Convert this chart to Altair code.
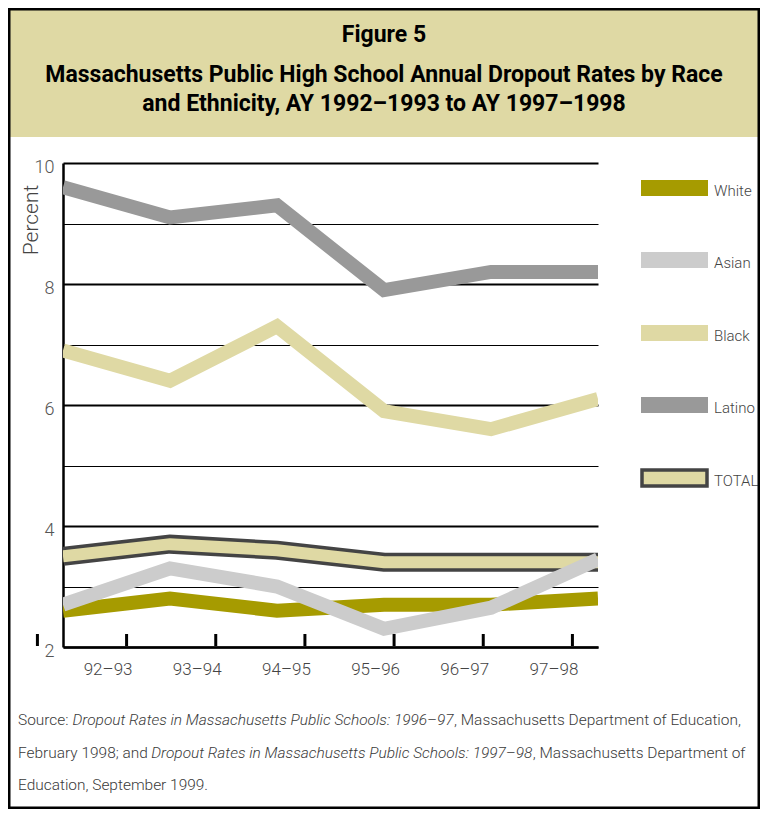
import altair as alt
import pandas as pd

# ---------------- data ----------------
years = ["92–93", "93–94", "94–95", "95–96", "96–97", "97–98"]
white = [2.6, 2.8, 2.6, 2.7, 2.7, 2.8]
asian = [2.7, 3.3, 3.0, 2.3, 2.65, 3.45]
black = [6.9, 6.4, 7.3, 5.9, 5.6, 6.1]
latino = [9.6, 9.1, 9.3, 7.9, 8.2, 8.2]
total = [3.5, 3.7, 3.6, 3.4, 3.4, 3.4]
series_names = ["White", "Asian", "Black", "Latino", "TOTAL"]
y_ticks = [2, 3, 4, 5, 6, 7, 8, 9, 10]

title_lines = [
    "Figure 5",
    "Massachusetts Public High School Annual Dropout Rates by Race",
    "and Ethnicity, AY 1992–1993 to AY 1997–1998",
]
source_lines = [
    [("Source: ", "normal"),
     ("Dropout Rates in Massachusetts Public Schools: 1996–97", "italic"),
     (", Massachusetts Department of Education,", "normal")],
    [("February 1998; and ", "normal"),
     ("Dropout Rates in Massachusetts Public Schools: 1997–98", "italic"),
     (", Massachusetts Department of", "normal")],
    [("Education, September 1999.", "normal")],
]

# ---------------- style ----------------
FONT = "Roboto, Liberation Sans, sans-serif"
TXT = "#3a3a3a"
TAN = "#dfd9a4"
colors = {"White": "#a69b00", "Asian": "#cccccc", "Black": "#dfd9a4",
          "Latino": "#999999", "TOTAL": "#dfd9a4"}

W, H = 535, 484
PAD_L, PAD_T, PAD_R, PAD_B = 55, 155, 162, 162

# approximate Roboto advance widths (units of 1/2048 em) for text layout
_w = {" ": 507, "a": 1087, "b": 1122, "c": 1046, "d": 1126, "e": 1058, "f": 694,
      "g": 1122, "h": 1101, "i": 486, "j": 478, "k": 1014, "l": 486, "m": 1751,
      "n": 1103, "o": 1140, "p": 1122, "q": 1131, "r": 677, "s": 1031, "t": 654,
      "u": 1100, "v": 968, "w": 1502, "x": 991, "y": 947, "z": 991,
      "A": 1336, "B": 1277, "C": 1338, "D": 1347, "E": 1166, "F": 1134, "G": 1397,
      "H": 1464, "I": 559, "J": 1132, "K": 1287, "L": 1104, "M": 1793, "N": 1464,
      "O": 1411, "P": 1292, "R": 1261, "S": 1217, "T": 1224, "U": 1331, "Y": 1231,
      ",": 402, ".": 527, ":": 485, ";": 433, "–": 1365, "-": 565}


def em(s):
    return sum(_w.get(c, 1150 if c.isdigit() else 1050) for c in s) / 2048.0


rows = []
for name, vals in zip(series_names, [white, asian, black, latino, total]):
    for yr, v in zip(years, vals):
        rows.append({"series": name, "year": yr, "value": v})
df = pd.DataFrame(rows)
one = pd.DataFrame({"a": [0]})

xs = alt.Scale(type="point", padding=0, domain=years)
ys = alt.Scale(domain=[2, 10], nice=False, zero=False)

y_axis = alt.Axis(
    values=y_ticks, grid=True, gridColor="black",
    gridWidth={"condition": {"test": "datum.value % 2 === 0", "value": 2}, "value": 1},
    labelExpr="datum.value % 2 === 0 ? datum.label : ''",
    ticks=False, domainColor="black", domainWidth=2.5, title=None,
    labelFont=FONT, labelFontSize=18, labelFontWeight=300, labelColor="#555555",
    labelPadding=9, labelOffset=4,
)


def series_line(name, width, color):
    return alt.Chart(df).transform_filter(alt.datum.series == name).mark_line(
        strokeWidth=width, color=color, strokeCap="butt", strokeJoin="miter", clip=True
    ).encode(x=alt.X("year:N", scale=xs, axis=None, sort=years),
             y=alt.Y("value:Q", scale=ys, axis=y_axis))


layers = []
layers.append(series_line("Latino", 14, colors["Latino"]))
layers.append(series_line("Black", 14, colors["Black"]))
layers.append(series_line("TOTAL", 19, "#444444"))
layers.append(series_line("TOTAL", 12, colors["TOTAL"]))
layers.append(series_line("White", 14, colors["White"]))
layers.append(series_line("Asian", 14, colors["Asian"]))

# x axis on a separate point scale (labels centred in six equal slots)
xa = alt.Scale(type="point", padding=0.5, domain=years)
axis_df = pd.DataFrame({"year": years})
layers.append(
    alt.Chart(axis_df).mark_tick(opacity=0).encode(
        x=alt.X("year:N", scale=xa, sort=years, axis=alt.Axis(
            title=None, ticks=False, domainColor="black", domainWidth=2.5,
            labelFont=FONT, labelFontSize=17, labelFontWeight=300, labelColor="#444444",
            labelPadding=14, labelAngle=0)),
        y=alt.value(H),
    )
)
layers.append(
    alt.Chart(axis_df).mark_rule(xOffset=19, strokeWidth=3, color="black").encode(
        x=alt.X("year:N", scale=xa, sort=years, axis=None),
        y=alt.value(H - 13), y2=alt.value(H - 1),
    )
)
layers.append(
    alt.Chart(axis_df.iloc[:1]).mark_rule(xOffset=19 - W / 6, strokeWidth=3, color="black").encode(
        x=alt.X("year:N", scale=xa, sort=years, axis=None),
        y=alt.value(H - 13), y2=alt.value(H - 1),
    )
)

# y axis title
layers.append(alt.Chart(one).mark_text(
    text="Percent", angle=270, font=FONT, fontSize=21, fontWeight=300, color="#444444",
    align="center", baseline="middle").encode(x=alt.value(-31), y=alt.value(57)))

# legend
sw_x0, sw_x1 = 578, 645
sw_y = [25, 97, 170, 242, 315]
for i, name in enumerate(series_names):
    cy = sw_y[i]
    if name == "TOTAL":
        layers.append(alt.Chart(one).mark_rect(
            fill=colors[name], stroke="#444444", strokeWidth=3.5).encode(
            x=alt.value(sw_x0 + 1), x2=alt.value(sw_x1 - 1),
            y=alt.value(cy - 8), y2=alt.value(cy + 8)))
    else:
        layers.append(alt.Chart(one).mark_rect(fill=colors[name]).encode(
            x=alt.value(sw_x0), x2=alt.value(sw_x1),
            y=alt.value(cy - 8), y2=alt.value(cy + 8)))
    layers.append(alt.Chart(one).mark_text(
        text=name, font=FONT, fontSize=15, fontWeight=300, color="#444444", align="left",
        baseline="middle").encode(x=alt.value(651), y=alt.value(cy + 3)))

# title band and outer frame
layers.append(alt.Chart(one).mark_rect(fill=TAN).encode(
    x=alt.value(-PAD_L), x2=alt.value(W + PAD_R), y=alt.value(-PAD_T), y2=alt.value(-26)))
title_fs = min(23.0, 735.0 / (em(title_lines[1]) * 1.06))
title_y = [-128, -88, -59]
for t, ty in zip(title_lines, title_y):
    layers.append(alt.Chart(one).mark_text(
        text=t, font=FONT, fontSize=title_fs, fontWeight="bold", color="black",
        align="center", baseline="middle").encode(x=alt.value(321), y=alt.value(ty)))
layers.append(alt.Chart(one).mark_rect(fill=None, stroke="black", strokeWidth=2.5).encode(
    x=alt.value(-PAD_L + 1.25), x2=alt.value(W + PAD_R - 1.25),
    y=alt.value(-PAD_T + 1.25), y2=alt.value(H + PAD_B - 1.25)))

# source (segments chained using the width table)
src_fs = min(16.0, 732.0 / em("".join(s for s, _ in source_lines[0])))
src_y = [557, 590, 622]
for line, sy in zip(source_lines, src_y):
    sx = -45.0
    for t, st in line:
        layers.append(alt.Chart(one).mark_text(
            text=t, font=FONT, fontSize=src_fs, fontStyle=st, fontWeight=300, color=TXT,
            align="left", baseline="middle").encode(x=alt.value(sx), y=alt.value(sy)))
        sx += em(t) * src_fs * (0.972 if st == "italic" else 1.0)

chart = alt.layer(*layers).resolve_scale(x="independent").properties(
    width=W, height=H,
    padding={"left": PAD_L, "top": PAD_T, "right": PAD_R, "bottom": PAD_B},
    autosize=alt.AutoSizeParams(type="none"),
    background="white",
).configure_view(stroke=None)

chart.save("out.html", embed_options={"renderer": "svg", "actions": False})
